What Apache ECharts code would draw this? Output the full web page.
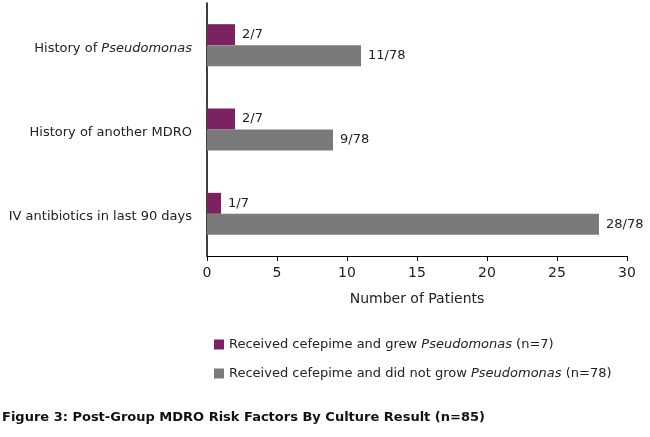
<!DOCTYPE html>
<html>
<head>
<meta charset="utf-8">
<script src="https://cdn.jsdelivr.net/npm/echarts@6/dist/echarts.min.js"></script>
<style>
  html, body { margin: 0; padding: 0; background: #fff; }
  #chart { width: 650px; height: 437px; }
</style>
</head>
<body>
<div id="chart"></div>
<script>
  // data
  const categories = ['History of Pseudomonas', 'History of another MDRO', 'IV antibiotics in last 90 days'];
  const grewValues = [2, 2, 1];
  const notGrewValues = [11, 9, 28];
  const grewTotal = 7;
  const notGrewTotal = 78;
  const xTicks = [0, 5, 10, 15, 20, 25, 30];

  const FONT = 'DejaVu Sans';
  // italic genus name inside rich text
  const richName = s => '{t|' + s.split('Pseudomonas').join('}{ti|Pseudomonas}{t|') + '}';
  const richStyles = {
    t: { fontSize: 13, color: '#222', fontFamily: FONT },
    ti: { fontSize: 13, color: '#222', fontFamily: FONT, fontStyle: 'italic' }
  };

  const chart = echarts.init(document.getElementById('chart'), null, { renderer: 'canvas' });
  const option = {
    animation: false,
    textStyle: { fontFamily: FONT },
    grid: { left: 207, right: 23, top: 3, bottom: 181, containLabel: false },
    xAxis: {
      type: 'value',
      min: xTicks[0],
      max: xTicks[xTicks.length - 1],
      interval: 5,
      name: 'Number of Patients',
      nameLocation: 'middle',
      nameGap: 36,
      nameTextStyle: { fontSize: 14, color: '#222', fontFamily: FONT },
      axisLine: { show: true, lineStyle: { color: '#000', width: 1 } },
      axisTick: { show: true, length: 5, lineStyle: { color: '#000' } },
      axisLabel: { fontSize: 14, color: '#222', margin: 10, fontFamily: FONT },
      splitLine: { show: false }
    },
    yAxis: {
      type: 'category',
      data: categories,
      inverse: true,
      axisLine: { show: true, lineStyle: { color: '#000', width: 1.5 } },
      axisTick: { show: false },
      axisLabel: {
        margin: 15,
        padding: [6, 0, 0, 0],
        fontSize: 13,
        color: '#222',
        fontFamily: FONT,
        formatter: richName,
        rich: richStyles
      }
    },
    legend: {
      orient: 'vertical',
      left: 209,
      top: 333,
      itemWidth: 10,
      itemHeight: 10,
      itemGap: 16,
      icon: 'rect',
      formatter: richName,
      textStyle: { fontFamily: FONT, rich: richStyles }
    },
    series: [
      {
        name: 'Received cefepime and grew Pseudomonas (n=7)',
        type: 'bar',
        data: grewValues,
        barWidth: 21,
        barGap: '0%',
        itemStyle: { color: '#7a2262' },
        label: {
          show: true,
          position: 'right',
          distance: 7,
          fontSize: 13,
          color: '#222',
          fontFamily: FONT,
          formatter: p => p.value + '/' + grewTotal
        }
      },
      {
        name: 'Received cefepime and did not grow Pseudomonas (n=78)',
        type: 'bar',
        data: notGrewValues,
        barWidth: 21,
        barGap: '0%',
        itemStyle: { color: '#7a7a7a' },
        label: {
          show: true,
          position: 'right',
          distance: 7,
          fontSize: 13,
          color: '#222',
          fontFamily: FONT,
          formatter: p => p.value + '/' + notGrewTotal
        }
      }
    ],
    graphic: [
      {
        type: 'text',
        left: 2,
        top: 411,
        style: {
          text: 'Figure 3: Post-Group MDRO Risk Factors By Culture Result (n=85)',
          fontFamily: FONT,
          fontWeight: 'bold',
          fontSize: 13,
          fill: '#111'
        }
      }
    ]
  };
  chart.setOption(option);
</script>
</body>
</html>
